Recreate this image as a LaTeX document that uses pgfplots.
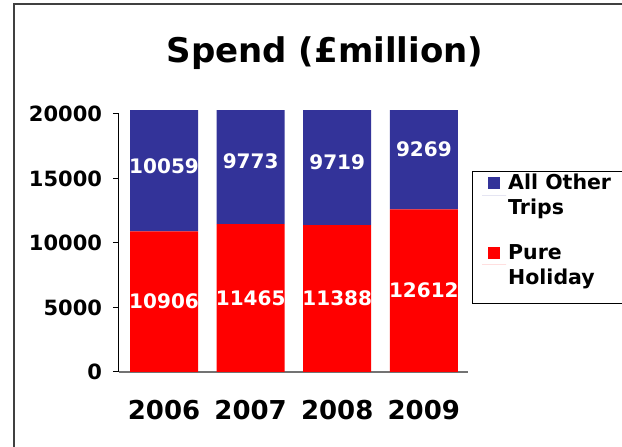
\documentclass[border=0pt]{standalone}
\usepackage{fontspec}
\setmainfont{DejaVu Sans}
\usepackage{pgfplots}
\usepackage{pgfplotstable}
\pgfplotsset{compat=1.18}
\definecolor{redbar}{RGB}{255,0,0}
\definecolor{bluebar}{RGB}{51,51,153}
\pgfplotstableread{
x hol oth
0 10906 10059
1 11465 9773
2 11388 9719
3 12612 9269
}\spend
\pgfplotsset{
  frameaxis/.style={
    at={(119pt,75pt)}, anchor=south west,
    scale only axis, width=349pt, height=261.9pt,
    xmin=-0.52, xmax=3.51, ymin=0, ymax=20300,
  }
}
\begin{document}
\begin{tikzpicture}[x=1pt,y=1pt]
\useasboundingbox (0,0) rectangle (622,447);
\draw[line width=2pt, black!75] (13.5,-5) -- (13.5,443) -- (640,443);
\begin{axis}[
  frameaxis,
  ybar stacked, bar width=68pt,
  xtick=data, xticklabels={2006,2007,2008,2009},
  ytick={0,5000,10000,15000,20000},
  axis lines=left,
  x axis line style={-, draw=black!55, line width=1.5pt},
  y axis line style={-, draw=black, line width=1pt, shorten >=3.9pt},
  tick align=outside, major tick length=6pt,
  xtick style={draw=none},
  ytick style={draw=black, line width=1pt},
  scaled y ticks=false,
  /pgf/number format/1000 sep={},
  /pgf/number format/assume math mode=true,
  yticklabel style={font=\fontsize{21}{21}\selectfont\bfseries, xshift=-7.5pt},
  xticklabel style={font=\fontsize{26}{26}\selectfont\bfseries, yshift=-18.5pt},
  title={Spend (£million)},
  title style={at={(0.590,1.157)}, anchor=base, font=\fontsize{34}{34}\selectfont\bfseries},
  legend style={name=leg, at={(1.0115,0.7637)}, anchor=north west, draw=none,
    inner xsep=10pt, inner ysep=0pt,
    font=\fontsize{20.5}{25}\selectfont\bfseries, cells={align=left, anchor=west}, row sep=24pt},
  reverse legend,
  legend image code/.code={\path (0pt,0pt) -- (24pt,0pt); \fill[#1] (6pt,6pt) rectangle (18pt,18pt);},
]
\addplot[fill=redbar, draw=none] table[x=x, y=hol] {\spend};
\addplot[fill=bluebar, draw=none] table[x=x, y=oth] {\spend};
\addlegendentry{Pure\\Holiday}
\addlegendentry{\makebox[120pt][l]{All Other}\\Trips}
\end{axis}
\draw[line width=1pt, black] (leg.north west) rectangle ([yshift=-16pt]leg.south east);
\begin{axis}[
  frameaxis, axis lines=none, clip=false,
  /pgf/number format/assume math mode=true,
  nodes near coords={\pgfmathprintnumber[fixed,precision=0,1000 sep={},assume math mode=true]{\pgfplotspointmeta}},
  nodes near coords align={center},
  every node near coord/.append style={anchor=center, text=white, font=\fontsize{20}{20}\selectfont\bfseries},
]
\addplot[only marks, mark=none, point meta=\thisrow{hol}] table[x=x, y expr=\thisrow{hol}/2] {\spend};
\addplot[only marks, mark=none, point meta=\thisrow{oth}] table[x=x, y expr=\thisrow{hol}+\thisrow{oth}/2] {\spend};
\end{axis}
\end{tikzpicture}
\end{document}
